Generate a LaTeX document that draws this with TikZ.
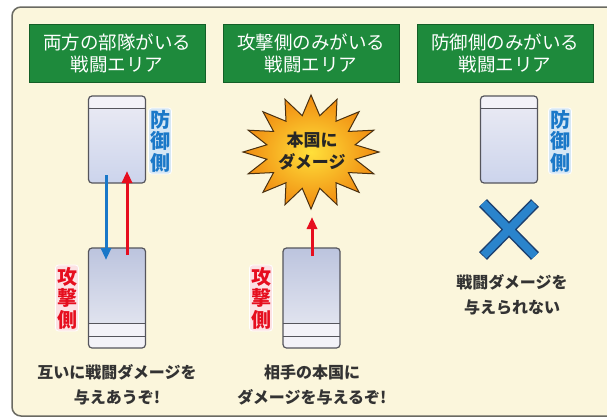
\documentclass[tikz,border=0pt]{standalone}
\usepackage{fontspec}
\setmainfont{Noto Sans CJK JP}
\usetikzlibrary{arrows.meta}
\definecolor{cream}{HTML}{FBF6DC}
\definecolor{framecol}{HTML}{6A6A62}
\definecolor{hdrgreen}{HTML}{1E8A3C}
\definecolor{hdrdark}{HTML}{135F27}
\definecolor{cardline}{HTML}{55555C}
\definecolor{deftop}{HTML}{ECECF4}
\definecolor{defbot}{HTML}{CCD4EC}
\definecolor{atktop}{HTML}{BCC4DE}
\definecolor{atkbot}{HTML}{ECEDF4}
\definecolor{bandcol}{HTML}{F3F2F8}
\definecolor{defblue}{HTML}{1A78C8}
\definecolor{atkred}{HTML}{E60E1E}
\definecolor{xdark}{HTML}{1C3F6E}
\definecolor{xblue}{HTML}{2A84CC}
\definecolor{txtcol}{HTML}{333333}
\definecolor{burstin}{HTML}{FFE03A}
\definecolor{burstout}{HTML}{F08A10}
\definecolor{burstline}{HTML}{4A3010}
\begin{document}
\begin{tikzpicture}[x=1pt,y=-1pt,
  hdr/.style={fill=hdrgreen, draw=hdrdark, line width=1pt, minimum width=176pt,
    minimum height=58pt, inner sep=0pt, text=white, align=center,
    font=\fontsize{18.5}{22.5}\selectfont},
  card/.style={draw=cardline, line width=1.2pt, rounded corners=3.5pt, inner sep=0pt,
    minimum width=57pt},
  defcard/.style={card, minimum height=87pt, top color=deftop, bottom color=defbot,
    path picture={
      \fill[bandcol] (path picture bounding box.north west) rectangle
        ([yshift=-12pt]path picture bounding box.north east);
      \draw[cardline, line width=1pt] ([yshift=-12pt]path picture bounding box.north west)
        -- ([yshift=-12pt]path picture bounding box.north east);}},
  atkcard/.style={card, minimum height=100pt, top color=atktop, bottom color=atkbot,
    path picture={
      \fill[bandcol] ([yshift=25pt]path picture bounding box.south west) rectangle
        (path picture bounding box.south east);
      \draw[cardline, line width=1pt] ([yshift=25pt]path picture bounding box.south west)
        -- ([yshift=25pt]path picture bounding box.south east);
      \draw[cardline, line width=1pt] ([yshift=12pt]path picture bounding box.south west)
        -- ([yshift=12pt]path picture bounding box.south east);}},
  vlabel/.style={inner xsep=1.5pt, inner ysep=2pt, rounded corners=3pt, align=center,
    font=\fontsize{20}{21.5}\selectfont\bfseries},
  deflabel/.style={vlabel, text=defblue, fill=defblue!18, draw=white, line width=0.8pt},
  atklabel/.style={vlabel, text=atkred, fill=atkred!12, draw=white, line width=0.8pt},
  caption/.style={inner sep=0pt, align=center, text=txtcol,
    font=\fontsize{16}{25}\selectfont\bfseries},
  arr/.style={line width=3pt, -{Triangle[length=12pt,width=10pt]}},
  burst/.style={draw=burstline, line width=1pt, line join=miter,
    inner color=burstin, outer color=burstout}
]
\useasboundingbox (0,0) rectangle (607,418);
\fill[white] (0,0) rectangle (607,418);
\begin{scope}
\clip (0,0) rectangle (607,418);
\draw[framecol, line width=1.5pt, fill=cream, rounded corners=9pt] (12,7) rectangle (660,416);
\end{scope}

% headers
\node[hdr] (h1) at (117,53.5) {両方の部隊がいる\\戦闘エリア};
\node[hdr] (h2) at (311,53.5) {攻撃側のみがいる\\戦闘エリア};
\node[hdr] (h3) at (505,53.5) {防御側のみがいる\\戦闘エリア};

% panel 1
\node[defcard] (d1) at (117,139.5) {};
\node[atkcard] (a1) at (117,298) {};
\node[deflabel] (dl1) at (160,141) {防\\御\\側};
\node[atklabel] (al1) at (67,298) {攻\\撃\\側};
\coordinate (b1s) at (106,175);
\coordinate (b1e) at (106,260);
\coordinate (r1s) at (127,255);
\coordinate (r1e) at (127,171);
\draw[arr, defblue] (b1s) -- (b1e);
\draw[arr, atkred] (r1s) -- (r1e);
\node[caption] (c1) at (117,384.5) {互いに戦闘ダメージを\\与えあうぞ!};

% panel 2
\draw[burst] plot[samples at={0,...,31}, variable=\k]
  ({311+ifthenelse(mod(\k,2)==0,68,45)*cos(90+\k*11.25)},
   {152+ifthenelse(mod(\k,2)==0,57,37)*sin(90+\k*11.25)}) -- cycle;
\node[inner sep=0pt, align=center, text=black!85, font=\fontsize{17}{22}\selectfont\bfseries]
  (burst) at (312,151) {本国に\\ダメージ};
\node[atkcard] (a2) at (311.5,298) {};
\node[atklabel] (al2) at (261,298) {攻\\撃\\側};
\coordinate (r2s) at (312,256);
\coordinate (r2e) at (312,217);
\draw[arr, atkred] (r2s) -- (r2e);
\node[caption] (c2) at (312,385) {相手の本国に\\ダメージを与えるぞ!};

% panel 3
\node[defcard] (d3) at (509,139.5) {};
\node[deflabel] (dl3) at (560,141) {防\\御\\側};
\coordinate (x1) at (483,203);
\coordinate (x2) at (535,256);
\coordinate (x3) at (535,203);
\coordinate (x4) at (483,256);
\draw[xdark, line width=11pt] (x1) -- (x2) (x3) -- (x4);
\draw[xblue, line width=8pt, shorten <=0.8pt, shorten >=0.8pt] (x1) -- (x2) (x3) -- (x4);
\node[caption] (c3) at (512,294.5) {戦闘ダメージを\\与えられない};
\end{tikzpicture}
\end{document}
